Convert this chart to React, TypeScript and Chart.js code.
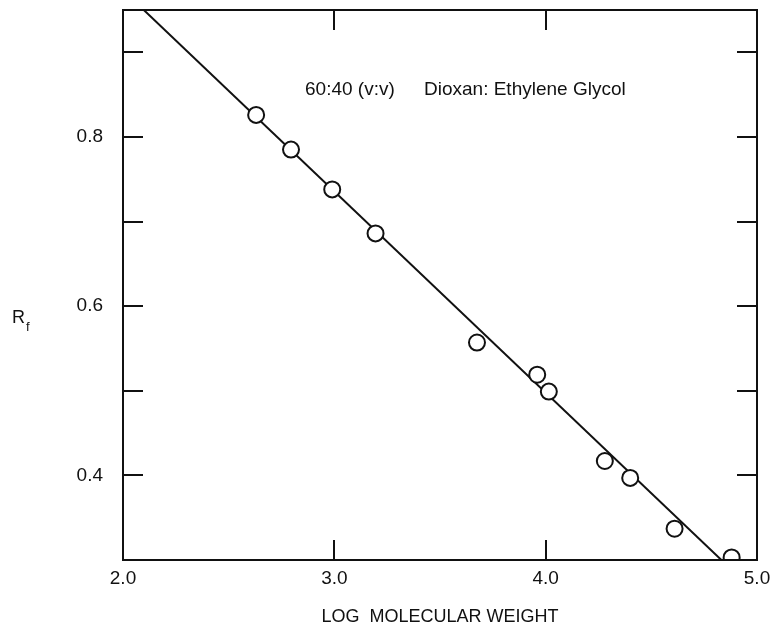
import React, { useEffect, useRef } from "react";
import { Chart, registerables } from "chart.js";

Chart.register(...registerables);

// Data
const logMolecularWeight = [2.63, 2.795, 2.99, 3.195, 3.675, 3.96, 4.015, 4.28, 4.40, 4.61, 4.88];
const rfValues = [0.826, 0.785, 0.738, 0.686, 0.557, 0.519, 0.499, 0.417, 0.397, 0.337, 0.303];
const fitLineX = [2.09, 4.84];
const fitLineY = [0.952, 0.298];
const xTickValues = [2.0, 3.0, 4.0, 5.0];
const xInnerTicks = [3.0, 4.0];
const yTickValues = [0.4, 0.5, 0.6, 0.7, 0.8, 0.9];
const yLabeledTicks = [0.4, 0.6, 0.8];
const annotationLeft = "60:40 (v:v)";
const annotationRight = "Dioxan: Ethylene Glycol";
const xTitle = "LOG  MOLECULAR WEIGHT";

const FONT = "'Liberation Sans', Arial, Helvetica, sans-serif";
const INK = "#111";

const framePlugin = {
  id: "framePlugin",
  afterDraw(chart: any) {
    const { ctx, chartArea: a, scales } = chart;
    const xs = scales.x;
    const ys = scales.y;
    ctx.save();
    ctx.strokeStyle = INK;
    ctx.lineWidth = 2;
    ctx.strokeRect(a.left, a.top, a.right - a.left, a.bottom - a.top);
    const tl = 20;
    ctx.beginPath();
    yTickValues.forEach((v) => {
      const py = Math.round(ys.getPixelForValue(v));
      ctx.moveTo(a.left, py);
      ctx.lineTo(a.left + tl, py);
      ctx.moveTo(a.right, py);
      ctx.lineTo(a.right - tl, py);
    });
    xInnerTicks.forEach((v) => {
      const px = Math.round(xs.getPixelForValue(v));
      ctx.moveTo(px, a.bottom);
      ctx.lineTo(px, a.bottom - tl);
      ctx.moveTo(px, a.top);
      ctx.lineTo(px, a.top + tl);
    });
    ctx.stroke();

    ctx.fillStyle = INK;
    ctx.textBaseline = "middle";
    ctx.textAlign = "left";
    ctx.font = `19px ${FONT}`;
    ctx.fillText(annotationLeft, 305, 90);
    ctx.fillText(annotationRight, 424, 90);
    // y title R_f
    ctx.font = `18px ${FONT}`;
    ctx.fillText("R", 12, 318);
    ctx.font = `13px ${FONT}`;
    ctx.fillText("f", 26, 327);
    ctx.restore();
  },
};

export default function App() {
  const ref = useRef<HTMLCanvasElement | null>(null);
  useEffect(() => {
    if (!ref.current) return;
    const points = logMolecularWeight.map((x, i) => ({ x, y: rfValues[i] }));
    const line = fitLineX.map((x, i) => ({ x, y: fitLineY[i] }));
    const chart = new Chart(ref.current, {
      type: "scatter",
      data: {
        datasets: [
          {
            label: "fit",
            data: line,
            showLine: true,
            borderColor: INK,
            borderWidth: 2,
            pointRadius: 0,
            clip: 0,
            order: 2,
          } as any,
          {
            label: "Rf",
            data: points,
            pointRadius: 8,
            pointBorderWidth: 2,
            pointBackgroundColor: "#fff",
            pointBorderColor: INK,
            clip: 0,
            order: 1,
          } as any,
        ],
      },
      options: {
        responsive: false,
        animation: false,
        layout: { autoPadding: false, padding: { left: 0, right: 15, top: 10, bottom: 0 } },
        plugins: { legend: { display: false }, tooltip: { enabled: false } },
        scales: {
          x: {
            type: "linear",
            min: 2.0,
            max: 5.0,
            grid: { display: false, drawTicks: false },
            border: { display: false },
            afterBuildTicks: (s: any) => {
              s.ticks = xTickValues.map((v) => ({ value: v }));
            },
            afterFit: (s: any) => {
              s.height = 72;
              s.paddingLeft = 0;
              s.paddingRight = 0;
            },
            ticks: {
              padding: 7,
              color: INK,
              font: { family: FONT, size: 19 },
              maxRotation: 0,
              callback: (v: any) => Number(v).toFixed(1),
            },
            title: {
              display: true,
              text: xTitle,
              color: INK,
              font: { family: FONT, size: 18 },
              padding: { top: 0, bottom: 4 },
            },
          },
          y: {
            type: "linear",
            min: 0.3,
            max: 0.95,
            grid: { display: false, drawTicks: false },
            border: { display: false },
            afterBuildTicks: (s: any) => {
              s.ticks = yTickValues.map((v) => ({ value: v }));
            },
            afterFit: (s: any) => {
              s.width = 123;
              s.paddingTop = 0;
              s.paddingBottom = 0;
            },
            ticks: {
              padding: 20,
              color: INK,
              font: { family: FONT, size: 19 },
              callback: (v: any) =>
                yLabeledTicks.some((t) => Math.abs(t - Number(v)) < 1e-6) ? Number(v).toFixed(1) : "",
            },
          },
        },
      },
      plugins: [framePlugin],
    });
    return () => chart.destroy();
  }, []);
  return (
    <div style={{ position: "absolute", left: 0, top: 0, width: 772, height: 632, background: "#fff" }}>
      <canvas ref={ref} width={772} height={632} style={{ width: 772, height: 632, display: "block" }} />
    </div>
  );
}
